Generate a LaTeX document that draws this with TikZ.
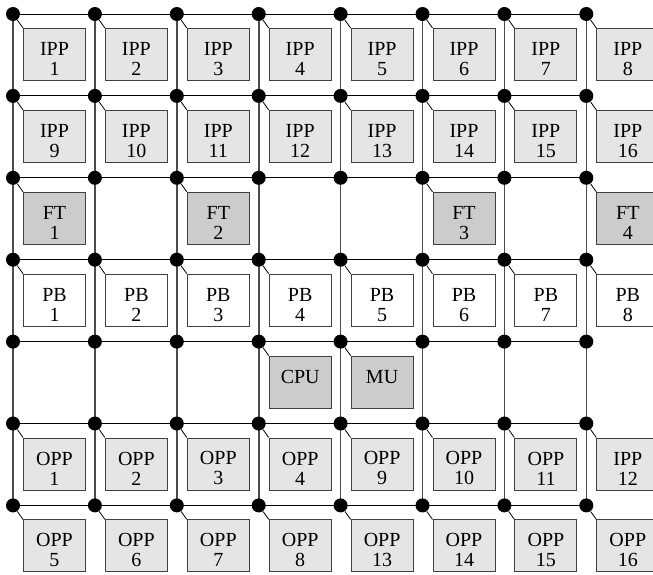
\documentclass[tikz,border=0pt]{standalone}
\usepackage{fontspec}
\setmainfont{Liberation Serif}

\begin{document}
\begin{tikzpicture}[
    x=0.5pt, y=-0.5pt,
    hub/.style={circle, fill=black, inner sep=0pt, minimum size=7pt},
    unit/.style={rectangle, draw=black!75, line width=0.5pt, minimum width=31pt, minimum height=26pt, inner sep=0pt, align=center, font=\fontsize{10}{10}\selectfont},
    ipp/.style={unit, fill=black!10},
    ctl/.style={unit, fill=black!20},
    pb/.style={unit, fill=white},
    hwire/.style={line width=0.5pt},
    vwire/.style={line width=0.8pt, black!70},
    stub/.style={line width=0.4pt}
]
    \useasboundingbox (0,0) rectangle (653,574);
    \clip (0,0) rectangle (653,574);

    % Grid points
    \foreach \c in {0,...,7}
        \foreach \r in {0,...,6}
            \coordinate (p-\c-\r) at (13+81.9*\c, 14+81.9*\r);

    % Grid
    \foreach \r in {0,...,6}
        \draw[hwire] (p-0-\r) -- (p-7-\r);
    \foreach \c in {0,...,7}
        \draw[vwire] (p-\c-0) -- (p-\c-6);

    % Hubs
    \foreach \c in {0,...,7}
        \foreach \r in {0,...,6}
            \node[hub] (d-\c-\r) at (p-\c-\r) {};

    % Units
    \foreach \c/\r/\s/\t in {
        0/0/ipp/IPP\\1, 1/0/ipp/IPP\\2, 2/0/ipp/IPP\\3, 3/0/ipp/IPP\\4,
        4/0/ipp/IPP\\5, 5/0/ipp/IPP\\6, 6/0/ipp/IPP\\7, 7/0/ipp/IPP\\8,
        0/1/ipp/IPP\\9, 1/1/ipp/IPP\\10, 2/1/ipp/IPP\\11, 3/1/ipp/IPP\\12,
        4/1/ipp/IPP\\13, 5/1/ipp/IPP\\14, 6/1/ipp/IPP\\15, 7/1/ipp/IPP\\16,
        0/2/ctl/FT\\1, 2/2/ctl/FT\\2, 5/2/ctl/FT\\3, 7/2/ctl/FT\\4,
        0/3/pb/PB\\1, 1/3/pb/PB\\2, 2/3/pb/PB\\3, 3/3/pb/PB\\4,
        4/3/pb/PB\\5, 5/3/pb/PB\\6, 6/3/pb/PB\\7, 7/3/pb/PB\\8,
        3/4/ctl/CPU\\~, 4/4/ctl/MU\\~,
        0/5/ipp/OPP\\1, 1/5/ipp/OPP\\2, 2/5/ipp/OPP\\3, 3/5/ipp/OPP\\4,
        4/5/ipp/OPP\\9, 5/5/ipp/OPP\\10, 6/5/ipp/OPP\\11, 7/5/ipp/IPP\\12,
        0/6/ipp/OPP\\5, 1/6/ipp/OPP\\6, 2/6/ipp/OPP\\7, 3/6/ipp/OPP\\8,
        4/6/ipp/OPP\\13, 5/6/ipp/OPP\\14, 6/6/ipp/OPP\\15, 7/6/ipp/OPP\\16}
    {
        \node[\s, anchor=north west] (b-\c-\r) at ([shift={(10,14)}]d-\c-\r.center) {\rule{0pt}{11pt}\t};
        \draw[stub] (d-\c-\r) -- (b-\c-\r.north west);
    }
\end{tikzpicture}
\end{document}
